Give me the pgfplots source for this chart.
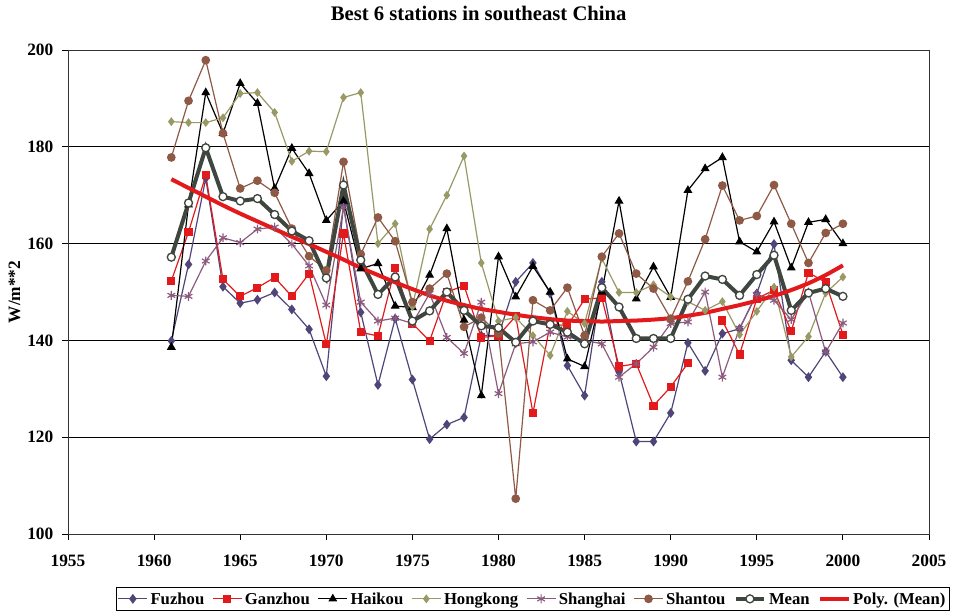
\documentclass[border=0pt]{standalone}
\usepackage{fontspec}
\setmainfont{Liberation Serif}
\usepackage{pgfplots}
\usepackage{pgfplotstable}
\pgfplotsset{compat=1.18}

\definecolor{cFu}{HTML}{4F4579}
\definecolor{cGa}{HTML}{E31A1C}
\definecolor{cHk}{HTML}{999966}
\definecolor{cSh}{HTML}{8C5A7D}
\definecolor{cSt}{HTML}{8E5A46}
\definecolor{cMean}{HTML}{3F463F}
\definecolor{cPoly}{HTML}{E31A1C}

% annual means, W/m**2
\pgfplotstableread{
year Fu    Ga    Ha    Hk    Sh    St    Mean  Poly
1961 139.9 152.3 138.6 185.2 149.3 177.8 157.2 173.3
1962 155.7 162.4 168.0 185.0 149.1 189.5 168.4 171.5
1963 173.5 174.1 191.2 185.0 156.4 197.9 179.8 169.7
1964 151.1 152.6 182.8 186.0 161.2 182.8 169.7 167.9
1965 147.7 149.1 193.1 191.0 160.2 171.4 168.8 166.2
1966 148.4 150.9 189.0 191.2 163.0 173.0 169.3 164.6
1967 149.9 153.0 171.4 187.1 163.4 170.5 166.0 163.0
1968 146.4 149.1 179.7 177.0 159.9 163.1 162.6 161.4
1969 142.3 153.8 174.5 179.1 155.4 157.4 160.6 159.9
1970 132.6 139.2 164.8 179.0 147.3 154.5 152.9 158.3
1971 168.0 162.1 168.8 190.2 167.5 176.9 172.1 156.7
1972 145.8 141.7 154.8 191.2 147.9 157.8 156.6 155.0
1973 130.8 140.9 155.9 160.0 144.0 165.4 149.5 153.5
1974 144.5 155.0 147.1 164.1 144.6 160.5 153.1 152.0
1975 131.9 143.5 146.8 147.0 143.5 147.9 144.0 150.6
1976 119.6 139.9 153.5 163.0 149.7 150.7 146.1 149.3
1977 122.6 150.0 163.1 170.0 140.6 153.8 150.0 148.2
1978 124.1 151.3 144.2 178.1 137.3 142.8 146.2 147.3
1979 141.0 140.6 128.6 156.0 147.9 144.7 143.0 146.5
1980 141.0 141.0 157.3 144.0 129.0 141.4 142.6 145.9
1981 152.1 145.0 149.0 144.7 139.3 107.3 139.6 145.3
1982 156.0 125.0 155.3 141.0 139.7 148.3 144.0 144.8
1983 149.7 143.4 150.0 136.9 141.7 146.2 143.3 144.4
1984 134.8 143.0 136.2 146.0 140.7 150.9 141.7 144.1
1985 128.6 148.5 134.6 143.5 140.0 141.0 139.3 144.0
1986 152.1 148.8 150.0 156.9 139.3 157.3 150.9 143.9
1987 133.5 134.6 168.8 149.9 132.4 162.1 146.9 144.0
1988 119.1 135.2 148.6 149.9 135.2 153.8 140.4 144.1
1989 119.1 126.5 155.2 151.5 138.6 150.7 140.4 144.3
1990 125.0 130.4 148.9 149.0 143.5 144.5 140.4 144.6
1991 139.5 135.3 171.0 148.0 143.8 152.2 148.5 145.1
1992 133.7 nan   175.5 146.2 150.0 160.9 153.3 145.7
1993 141.4 144.1 177.8 148.0 132.4 172.0 152.6 146.5
1994 142.4 137.1 160.4 141.2 142.5 164.8 149.3 147.3
1995 149.7 148.6 158.3 146.0 149.5 165.7 153.6 148.2
1996 159.9 150.4 164.5 151.0 148.3 172.1 157.6 149.2
1997 135.9 141.9 155.0 136.6 144.3 164.1 146.2 150.4
1998 132.4 154.0 164.4 140.8 150.0 156.0 149.8 151.8
1999 137.7 152.0 165.0 149.8 137.6 162.2 150.7 153.5
2000 132.4 141.2 160.0 153.1 143.6 164.1 149.1 155.5
}\data

\begin{document}
\begin{tikzpicture}
\begin{axis}[
  scale only axis,
  width=645.75pt, height=363pt,
  xmin=1955, xmax=2005, ymin=100, ymax=200,
  xtick={1955,1960,...,2005},
  ytick={100,120,...,200},
  ymajorgrids,
  major grid style={black, line width=0.7pt},
  axis line style={black!80, line width=0.7pt},
  tick align=outside, tick pos=left,
  major tick length=4.5pt,
  tick style={black, line width=0.7pt},
  /pgf/number format/assume math mode=true,
  x tick label style={/pgf/number format/1000 sep={}},
  ticklabel style={font=\bfseries\fontsize{13}{15}\selectfont},
  xticklabel style={yshift=-8pt},
  yticklabel style={xshift=-3pt},
  ylabel={W/m**2},
  ylabel style={font=\bfseries\fontsize{13}{15}\selectfont,
    at={(axis description cs:-0.062,0.5)}, anchor=center},
  title={Best 6 stations in southeast China},
  title style={font=\bfseries\fontsize{15.5}{18}\selectfont,
    at={(axis description cs:0.477,1.06)}, anchor=center},
  legend style={at={(axis description cs:0.540,-0.134)}, anchor=center,
    legend columns=-1, draw=black,
    font=\bfseries\fontsize{12.5}{14}\selectfont,
    /tikz/every even column/.append style={column sep=4pt},
    inner sep=1pt},
  legend image code/.code={
    \draw[mark repeat=2,mark phase=2] plot coordinates {(0cm,0cm) (0.38cm,0cm) (0.76cm,0cm)};},
  unbounded coords=jump,
]
\addplot[cFu, line width=0.9pt, mark=diamond*, mark size=3pt] table[x=year,y=Fu] {\data};
\addplot[cGa, line width=0.9pt, mark=square*, mark size=2.6pt] table[x=year,y=Ga] {\data};
\addplot[black, line width=0.9pt, mark=triangle*, mark size=3pt] table[x=year,y=Ha] {\data};
\addplot[cHk, line width=0.9pt, mark=diamond*, mark size=2.6pt] table[x=year,y=Hk] {\data};
\addplot[cSh, line width=0.9pt, mark=asterisk, mark size=3.3pt, mark options={line width=0.9pt}] table[x=year,y=Sh] {\data};
\addplot[cSt, line width=0.9pt, mark=*, mark size=2.8pt] table[x=year,y=St] {\data};
\addplot[cMean, line width=3pt, mark=*, mark size=3pt,
  mark options={fill=white, draw=cMean, line width=1pt}] table[x=year,y=Mean] {\data};
\addplot[cPoly, line width=3pt, smooth] table[x=year,y=Poly] {\data};
\legend{\strut Fuzhou, \strut Ganzhou, \strut Haikou, \strut Hongkong, \strut Shanghai, \strut Shantou, \strut Mean, \strut Poly. (Mean)}
\coordinate (ll) at (rel axis cs:0,0);
\coordinate (ur) at (rel axis cs:1,1);
\end{axis}
\pgfresetboundingbox
\path ([shift={(-51pt,-57.75pt)}]ll) rectangle ([shift={(22.5pt,37.5pt)}]ur);
\end{tikzpicture}
\end{document}
